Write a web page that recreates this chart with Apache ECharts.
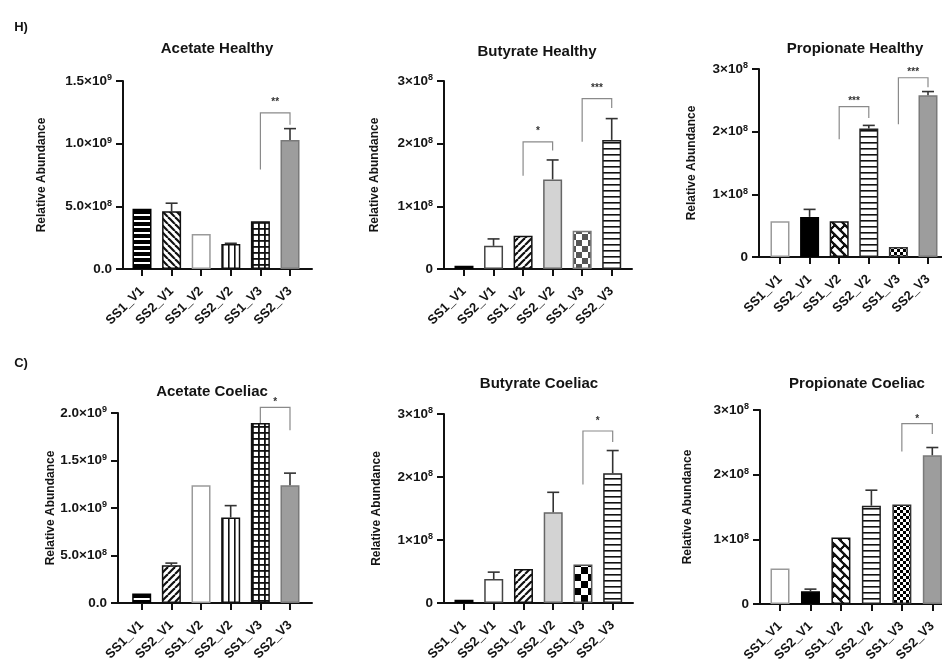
<!DOCTYPE html>
<html><head><meta charset="utf-8">
<script src="https://cdn.jsdelivr.net/npm/echarts@6/dist/echarts.min.js"></script>
<style>html,body{margin:0;padding:0;background:#fff}#c{width:942px;height:659px}</style>
</head><body><div id="c"></div>
<script>
// ---------------- DATA ----------------
const categories = ['SS1_V1','SS2_V1','SS1_V2','SS2_V2','SS1_V3','SS2_V3'];

const acetateHealthyMean = [4.8e8, 4.6e8, 2.8e8, 2.0e8, 3.8e8, 1.03e9];
const acetateHealthyErrTop = [null, 5.25e8, null, 2.05e8, null, 1.12e9];
const acetateHealthyTicks = ['0.0','5.0×10^8','1.0×10^9','1.5×10^9'];
const acetateHealthyBrackets = [[4, 5, 7.94e8, 1.246e9, 1.15e9, 1.357e9, '**']];

const butyrateHealthyMean = [5e6, 3.7e7, 5.3e7, 1.43e8, 6.1e7, 2.06e8];
const butyrateHealthyErrTop = [null, 4.8e7, null, 1.74e8, null, 2.4e8];
const butyrateHealthyTicks = ['0','1×10^8','2×10^8','3×10^8'];
const butyrateHealthyBrackets = [[2, 3, 1.49e8, 2.03e8, 1.89e8, 2.25e8, '*'], [4, 5, 2.03e8, 2.72e8, 2.57e8, 2.93e8, '***']];

const propionateHealthyMean = [5.7e7, 6.4e7, 5.7e7, 2.05e8, 1.6e7, 2.58e8];
const propionateHealthyErrTop = [null, 7.6e7, null, 2.1e8, null, 2.64e8];
const propionateHealthyTicks = ['0','1×10^8','2×10^8','3×10^8'];
const propionateHealthyBrackets = [[2, 3, 1.88e8, 2.4e8, 2.22e8, 2.54e8, '***'], [4, 5, 2.12e8, 2.86e8, 2.71e8, 3.0e8, '***']];

const acetateCoeliacMean = [1.0e8, 3.98e8, 1.24e9, 9.0e8, 1.895e9, 1.24e9];
const acetateCoeliacErrTop = [null, 4.2e8, null, 1.025e9, null, 1.367e9];
const acetateCoeliacTicks = ['0.0','5.0×10^8','1.0×10^9','1.5×10^9','2.0×10^9'];
const acetateCoeliacBrackets = [[4, 5, 1.896e9, 2.06e9, 1.818e9, 2.14e9, '*']];

const butyrateCoeliacMean = [5e6, 3.8e7, 5.4e7, 1.44e8, 6.1e7, 2.06e8];
const butyrateCoeliacErrTop = [null, 4.9e7, null, 1.757e8, null, 2.42e8];
const butyrateCoeliacTicks = ['0','1×10^8','2×10^8','3×10^8'];
const butyrateCoeliacBrackets = [[4, 5, 1.88e8, 2.73e8, 2.556e8, 2.94e8, '*']];

const propionateCoeliacMean = [5.5e7, 1.96e7, 1.03e8, 1.52e8, 1.54e8, 2.3e8];
const propionateCoeliacErrTop = [null, 2.3e7, null, 1.76e8, null, 2.42e8];
const propionateCoeliacTicks = ['0','1×10^8','2×10^8','3×10^8'];
const propionateCoeliacBrackets = [[4, 5, 2.36e8, 2.79e8, 2.63e8, 2.9e8, '*']];

// ---------------- PATTERNS / STYLES ----------------
function mk(w, h, draw) {
  const c = document.createElement('canvas'); c.width = w; c.height = h;
  const ctx = c.getContext('2d'); draw(ctx, w, h); return c;
}
function pat(canvas) { return { image: canvas, repeat: 'repeat' }; }
function zigzagCanvas(Pd) {
  const h = Pd / 2;
  return mk(Pd, Pd, (g) => {
    g.fillStyle = '#fff'; g.fillRect(0, 0, Pd, Pd); g.strokeStyle = '#111'; g.lineWidth = 1.7; g.lineCap = 'square';
    const segs = [];
    for (let k = -2 * Pd; k <= 2 * Pd; k += h) segs.push([k - Pd * 2, -Pd * 2, k + Pd * 3, Pd * 3]);
    for (let c = -2 * Pd; c <= 4 * Pd; c += Pd) {
      segs.push([c / 2, c / 2, (c + h) / 2, (c - h) / 2]);
      const c2 = c + h;
      segs.push([c2 / 2, c2 / 2, (c2 - h) / 2, (c2 + h) / 2]);
    }
    for (const dx of [-Pd, 0, Pd]) for (const dy of [-Pd, 0, Pd]) for (const s of segs) {
      g.beginPath(); g.moveTo(s[0] + dx, s[1] + dy); g.lineTo(s[2] + dx, s[3] + dy); g.stroke();
    }
  });
}
const P = {
  hstripeBlack: mk(6, 6, (g) => { g.fillStyle = '#000'; g.fillRect(0, 0, 6, 6); g.fillStyle = '#fff'; g.fillRect(0, 4, 6, 2); }),
  hstripeWhite: mk(6, 6, (g) => { g.fillStyle = '#fff'; g.fillRect(0, 0, 6, 6); g.fillStyle = '#111'; g.fillRect(0, 4, 6, 1.6); }),
  vstripe: mk(6, 6, (g) => { g.fillStyle = '#fff'; g.fillRect(0, 0, 6, 6); g.fillStyle = '#111'; g.fillRect(0, 0, 1.6, 6); }),
  grid: mk(6, 6, (g) => { g.fillStyle = '#fff'; g.fillRect(0, 0, 6, 6); g.fillStyle = '#111'; g.fillRect(0, 0, 1.8, 6); g.fillRect(0, 0, 6, 1.8); }),
  diagBack: mk(7, 7, (g) => { g.fillStyle = '#fff'; g.fillRect(0, 0, 7, 7); g.strokeStyle = '#111'; g.lineWidth = 2.2;
    for (const x0 of [-7, 0, 7]) { g.beginPath(); g.moveTo(x0, 0); g.lineTo(x0 + 7, 7); g.stroke(); } }),
  diagFwd: mk(7, 7, (g) => { g.fillStyle = '#fff'; g.fillRect(0, 0, 7, 7); g.strokeStyle = '#111'; g.lineWidth = 2.2;
    for (const x0 of [-7, 0, 7]) { g.beginPath(); g.moveTo(x0, 7); g.lineTo(x0 + 7, 0); g.stroke(); } }),
  checkerGrey: mk(12, 12, (g) => { g.fillStyle = '#fff'; g.fillRect(0, 0, 12, 12); g.fillStyle = '#555'; g.fillRect(0, 0, 6, 6); g.fillRect(6, 6, 6, 6); }),
  checkerBlack: mk(14, 14, (g) => { g.fillStyle = '#fff'; g.fillRect(0, 0, 14, 14); g.fillStyle = '#000'; g.fillRect(0, 0, 7, 7); g.fillRect(7, 7, 7, 7); }),
  fineChecker: mk(6, 6, (g) => { g.fillStyle = '#fff'; g.fillRect(0, 0, 6, 6); g.fillStyle = '#000'; g.fillRect(0, 0, 3, 3); g.fillRect(3, 3, 3, 3); }),
  zigzag: zigzagCanvas(20)
};
const fills = {
  hstripeBlack: { color: pat(P.hstripeBlack), border: '#000' },
  hstripeWhite: { color: pat(P.hstripeWhite), border: '#222' },
  vstripe: { color: pat(P.vstripe), border: '#111' },
  grid: { color: pat(P.grid), border: '#111' },
  diagBack: { color: pat(P.diagBack), border: '#111' },
  diagFwd: { color: pat(P.diagFwd), border: '#111' },
  checkerGrey: { color: pat(P.checkerGrey), border: '#777' },
  checkerBlack: { color: pat(P.checkerBlack), border: '#555' },
  fineChecker: { color: pat(P.fineChecker), border: '#333' },
  zigzag: { color: pat(P.zigzag), border: '#111' },
  whiteGrey: { color: '#fff', border: '#9a9a9a' },
  whiteDark: { color: '#fff', border: '#444' },
  grey: { color: '#9d9d9d', border: '#7a7a7a' },
  lightGrey: { color: '#d3d3d3', border: '#666' },
  black: { color: '#000', border: '#000' }
};

const panels = [
  { title: 'Acetate Healthy', mean: acetateHealthyMean, err: acetateHealthyErrTop, ticks: acetateHealthyTicks, interval: 5e8, brackets: acetateHealthyBrackets,
    grid: { left: 123, top: 81, width: 189, height: 188 }, xMin: -0.642, xMax: 5.743, titlePos: [217, 49], nameGap: 75,
    fills: ['hstripeBlack', 'diagBack', 'whiteGrey', 'vstripe', 'grid', 'grey'] },
  { title: 'Butyrate Healthy', mean: butyrateHealthyMean, err: butyrateHealthyErrTop, ticks: butyrateHealthyTicks, interval: 1e8, brackets: butyrateHealthyBrackets,
    grid: { left: 444, top: 81, width: 188, height: 188 }, xMin: -0.677, xMax: 5.687, titlePos: [537, 52], nameGap: 63,
    fills: ['black', 'whiteDark', 'diagFwd', 'lightGrey', 'checkerGrey', 'hstripeWhite'] },
  { title: 'Propionate Healthy', mean: propionateHealthyMean, err: propionateHealthyErrTop, ticks: propionateHealthyTicks, interval: 1e8, brackets: propionateHealthyBrackets,
    grid: { left: 759, top: 69, width: 183, height: 188 }, xMin: -0.709, xMax: 5.473, titlePos: [855, 49], nameGap: 61,
    fills: ['whiteGrey', 'black', 'zigzag', 'hstripeWhite', 'fineChecker', 'grey'] },
  { title: 'Acetate Coeliac', mean: acetateCoeliacMean, err: acetateCoeliacErrTop, ticks: acetateCoeliacTicks, interval: 5e8, brackets: acetateCoeliacBrackets,
    grid: { left: 118, top: 413, width: 194, height: 190 }, xMin: -0.799, xMax: 5.742, titlePos: [212, 392], nameGap: 59,
    fills: ['hstripeBlack', 'diagFwd', 'whiteGrey', 'vstripe', 'grid', 'grey'] },
  { title: 'Butyrate Coeliac', mean: butyrateCoeliacMean, err: butyrateCoeliacErrTop, ticks: butyrateCoeliacTicks, interval: 1e8, brackets: butyrateCoeliacBrackets,
    grid: { left: 444, top: 414, width: 189, height: 189 }, xMin: -0.672, xMax: 5.683, titlePos: [539, 384], nameGap: 61,
    fills: ['black', 'whiteDark', 'diagFwd', 'lightGrey', 'checkerBlack', 'hstripeWhite'] },
  { title: 'Propionate Coeliac', mean: propionateCoeliacMean, err: propionateCoeliacErrTop, ticks: propionateCoeliacTicks, interval: 1e8, brackets: propionateCoeliacBrackets,
    grid: { left: 760, top: 410, width: 182, height: 194 }, xMin: -0.657, xMax: 5.318, titlePos: [857, 384], nameGap: 66,
    fills: ['whiteGrey', 'black', 'zigzag', 'hstripeWhite', 'fineChecker', 'grey'] }
];

// ---------------- BUILD ----------------
const FONT = '"Liberation Sans", Arial, Helvetica, sans-serif';
const TXT = '#141414';
const grids = [], xAxes = [], yAxes = [], series = [], graphics = [];
const idx = categories.map((_, i) => i);

panels.forEach((p, k) => {
  grids.push(Object.assign({ containLabel: false, outerBoundsMode: 'none' }, p.grid));
  xAxes.push({
    type: 'value', gridIndex: k, min: p.xMin, max: p.xMax, splitLine: { show: false },
    axisLine: { show: true, onZero: false, lineStyle: { color: '#111', width: 2 } },
    axisTick: { show: true, customValues: idx, length: 7, lineStyle: { color: '#111', width: 2 } },
    axisLabel: { customValues: idx, rotate: 45, margin: 20, formatter: (v) => categories[Math.round(v)] || '',
      fontFamily: FONT, fontWeight: 'bold', fontSize: 13, color: TXT }
  });
  const ymax = p.interval * (p.ticks.length - 1);
  yAxes.push({
    type: 'value', gridIndex: k, min: 0, max: ymax, interval: p.interval, splitLine: { show: false },
    axisLine: { show: true, onZero: false, lineStyle: { color: '#111', width: 2 } },
    axisTick: { show: true, length: 7, lineStyle: { color: '#111', width: 2 } },
    name: 'Relative Abundance', nameLocation: 'middle', nameGap: p.nameGap,
    nameTextStyle: { fontFamily: FONT, fontWeight: 'bold', fontSize: 12, color: TXT },
    axisLabel: {
      margin: 11,
      formatter: (v) => {
        const s = p.ticks[Math.round(v / p.interval)] || '';
        const parts = s.split('^');
        return parts.length > 1 ? '{b|' + parts[0] + '}{s|' + parts[1] + '}' : '{b|' + parts[0] + '}';
      },
      rich: {
        b: { fontFamily: FONT, fontWeight: 'bold', fontSize: 13.5, lineHeight: 15, color: TXT },
        s: { fontFamily: FONT, fontWeight: 'bold', fontSize: 9, lineHeight: 9, verticalAlign: 'top', color: TXT }
      }
    }
  });
  series.push({
    type: 'bar', xAxisIndex: k, yAxisIndex: k, barWidth: 19, z: 2,
    data: p.mean.map((m, i) => ({
      value: [i, m],
      itemStyle: { color: fills[p.fills[i]].color, borderColor: fills[p.fills[i]].border, borderWidth: 1.5 }
    }))
  });
  series.push({
    type: 'custom', xAxisIndex: k, yAxisIndex: k, z: 3,
    data: p.err.map((e, i) => e == null ? null : [i, p.mean[i], e]).filter((d) => d),
    renderItem: (params, api) => {
      const a = api.coord([api.value(0), api.value(1)]);
      const b = api.coord([api.value(0), api.value(2)]);
      const st = { stroke: '#333', lineWidth: 1.6 };
      return { type: 'group', children: [
        { type: 'line', shape: { x1: a[0], y1: a[1], x2: b[0], y2: b[1] }, style: st },
        { type: 'line', shape: { x1: b[0] - 6, y1: b[1], x2: b[0] + 6, y2: b[1] }, style: st }
      ] };
    }
  });
  series.push({
    type: 'custom', xAxisIndex: k, yAxisIndex: k, z: 4, clip: false,
    data: p.brackets.map((b) => b.slice(0, 6)),
    renderItem: (params, api) => {
      const l = api.value(0), r = api.value(1);
      const p1 = api.coord([l, api.value(2)]), p2 = api.coord([l, api.value(3)]);
      const p3 = api.coord([r, api.value(3)]), p4 = api.coord([r, api.value(4)]);
      const ps = api.coord([(l + r) / 2, api.value(5)]);
      return { type: 'group', children: [
        { type: 'polyline', shape: { points: [p1, p2, p3, p4] }, style: { stroke: '#8a8a8a', lineWidth: 1.2, fill: null } },
        { type: 'text', x: ps[0], y: ps[1] + 3, style: { text: p.brackets[params.dataIndex][6], textAlign: 'center', textVerticalAlign: 'middle',
          font: 'bold 10px ' + FONT, fill: '#333' } }
      ] };
    }
  });
  graphics.push({ type: 'text', x: p.titlePos[0], y: p.titlePos[1],
    style: { text: p.title, textAlign: 'center', textVerticalAlign: 'middle', font: 'bold 15px ' + FONT, fill: TXT } });
});
graphics.push({ type: 'text', x: 21, y: 27, style: { text: 'H)', textAlign: 'center', textVerticalAlign: 'middle', font: 'bold 13px ' + FONT, fill: TXT } });
graphics.push({ type: 'text', x: 21, y: 363, style: { text: 'C)', textAlign: 'center', textVerticalAlign: 'middle', font: 'bold 13px ' + FONT, fill: TXT } });

const chart = echarts.init(document.getElementById('c'));
chart.setOption({
  animation: false, backgroundColor: '#fff',
  grid: grids, xAxis: xAxes, yAxis: yAxes, series: series, graphic: graphics
});
</script>
</body></html>
